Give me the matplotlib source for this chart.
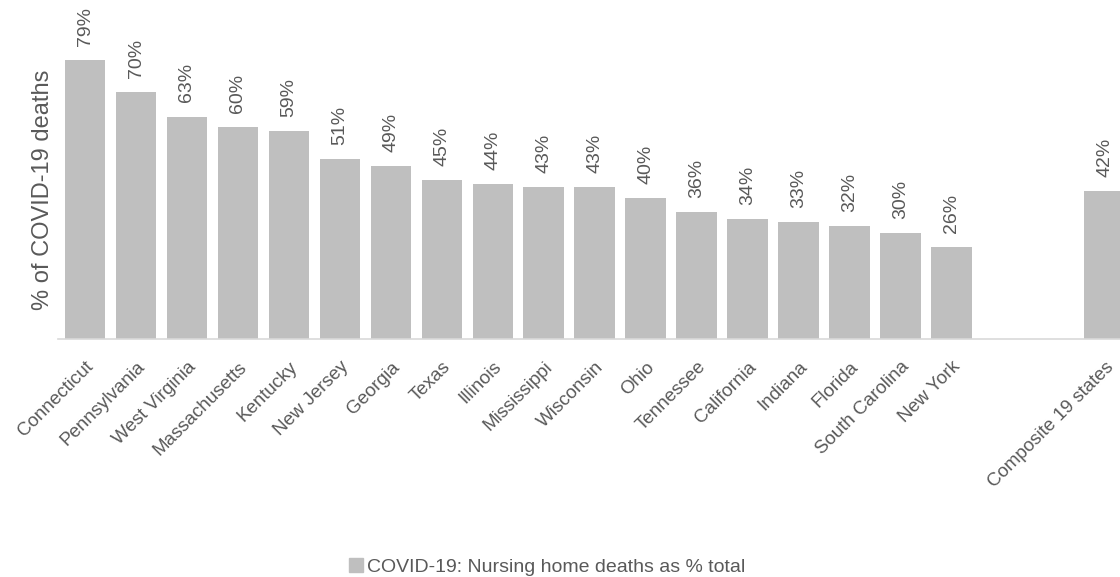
import matplotlib
matplotlib.use("Agg")
import matplotlib.pyplot as plt
import numpy as np

states = ["Connecticut", "Pennsylvania", "West Virginia", "Massachusetts", "Kentucky",
          "New Jersey", "Georgia", "Texas", "Illinois", "Mississippi", "Wisconsin",
          "Ohio", "Tennessee", "California", "Indiana", "Florida", "South Carolina",
          "New York"]
state_values = [79, 70, 63, 60, 59, 51, 49, 45, 44, 43, 43, 40, 36, 34, 33, 32, 30, 26]
composite_label = "Composite 19 states"
composite_value = 42
series_name = "COVID-19: Nursing home deaths as % total"

plt.rcParams['font.family'] = ['Liberation Sans Narrow', 'Liberation Sans', 'DejaVu Sans']
txt = '#595959'
bar_color = '#bfbfbf'

fig = plt.figure(figsize=(11.2, 5.77), dpi=100)
ax = fig.add_axes([58/1120, 1 - 339/577, 1 - 58/1120, 339/577])

gap = 2
labels = states + [""] * gap + [composite_label]
values = state_values + [np.nan] * gap + [composite_value]
x = np.arange(len(labels))

ax.bar(x, values, width=0.8, color=bar_color, label=series_name, zorder=2)
for xi, v in zip(x, values):
    if np.isnan(v):
        continue
    ax.text(xi, v + 4.0, f"{v:.0f}%", rotation=90, ha='center', va='bottom',
            fontsize=14, color=txt, clip_on=False)

ax.set_xlim(-0.53, 20.3)
ax.set_ylim(0, 96)
ax.set_xticks(x)
ax.set_xticklabels(labels, rotation=45, ha='right', rotation_mode='anchor',
                   fontsize=13.5, color=txt)
ax.tick_params(axis='x', length=0, pad=14)
ax.set_yticks([])
for s in ['left', 'top', 'right']:
    ax.spines[s].set_visible(False)
ax.spines['bottom'].set_color('#d9d9d9')
ax.spines['bottom'].set_linewidth(1.2)

fig.text(43/1120, 1 - 190/577, "% of COVID-19 deaths", rotation=90, ha='center',
         va='center', fontsize=17, color=txt)

handles = [plt.Rectangle((0, 0), 1, 1, color=bar_color)]
fig.legend(handles, [series_name], loc='center', bbox_to_anchor=(547/1120, 1 - 567/577),
           frameon=False, fontsize=14, labelcolor=txt, handlelength=0.7, handleheight=0.7,
           handletextpad=0.2)

fig.savefig("out.png", dpi=100)
